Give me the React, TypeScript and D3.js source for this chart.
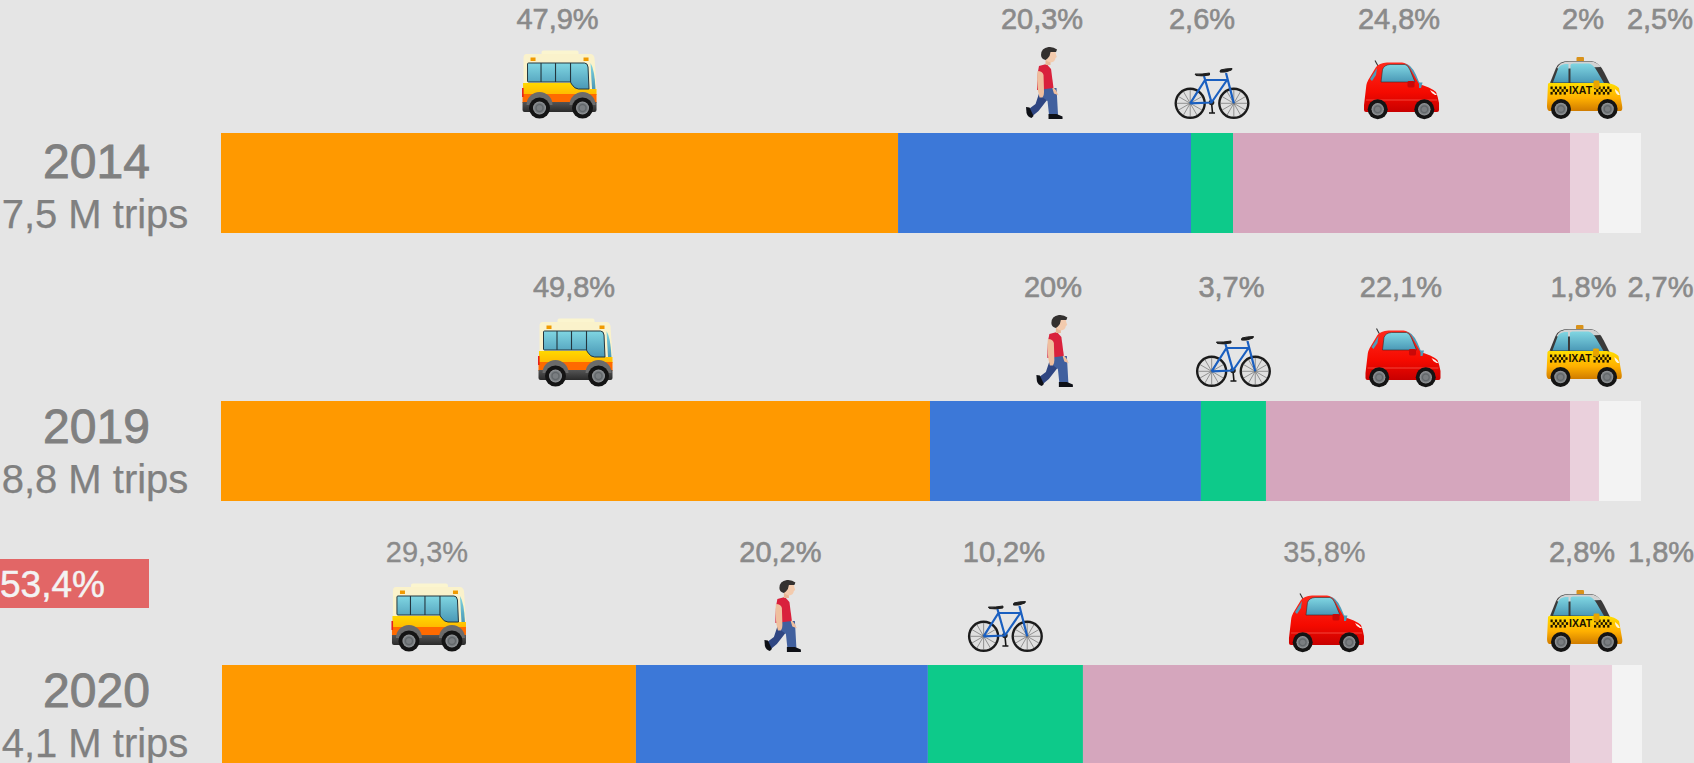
import React from 'react';
import * as d3 from 'd3';

const W = 1694;
const H = 763;

// ---- data
const years = ['2014', '2019', '2020'];
const trips = ['7,5 M trips', '8,8 M trips', '4,1 M trips'];
const modes = ['bus', 'walk', 'bike', 'car', 'taxi', 'other'];

// printed percentages
const busPrinted = [47.9, 49.8, 29.3];
const walkPrinted = [20.3, 20, 20.2];
const bikePrinted = [2.6, 3.7, 10.2];
const carPrinted = [24.8, 22.1, 35.8];
const taxiPrinted = [2, 1.8, 2.8];
const otherPrinted = [2.5, 2.7, 1.8];

// bar lengths (share of the full bar)
const busDrawn = [47.68, 49.93, 29.15];
const walkDrawn = [20.63, 19.08, 20.56];
const bikeDrawn = [2.96, 4.58, 10.92];
const carDrawn = [23.73, 21.41, 34.3];
const taxiDrawn = [2.04, 2.04, 2.96];
const otherDrawn = [2.96, 2.96, 2.11];

const dropLabel = '53,4%';

// ---- layout & style
const colors = ['#FF9900', '#3C78D8', '#0DCA8A', '#D5A6BD', '#EAD0DC', '#F3F3F3'];
const barLeft = [221, 221, 222];
const barTop = [133, 401, 665];
const BAR_H = 100;
const BAR_W = 1420;
const iconBottom = [119, 387, 652];
const labelBase = [29, 297, 562];
const yearBase = [178, 442.5, 707];
const tripBase = [228, 492.5, 756.5];
const labelNudge = [
  [-2, -2.5, -10, -2.5, -1.5, 40],
  [-1.5, -12.5, -2, -17, -1, 40.5],
  [-2, -1.5, -1.5, -2, -9, 34],
];
const iconNudge = [
  [0, 0, 0, 0.5, 0.5],
  [0, -10.6, 0, -14.5, 0],
  [0, 1, 0, 0.5, -6],
];
const labelStroke = [
  [0.6, 0.6, 0.6, 0.6, 0.6, 0.6],
  [0.6, 0.6, 0.6, 0.6, 0.6, 0.6],
  [0.3, 0.6, 0.6, 0.3, 0.6, 0.6],
];
const FONT = '"Liberation Sans", Arial, sans-serif';

const printed = [busPrinted, walkPrinted, bikePrinted, carPrinted, taxiPrinted, otherPrinted];
const drawn = [busDrawn, walkDrawn, bikeDrawn, carDrawn, taxiDrawn, otherDrawn];
const rows = years.map((_, r) => Object.fromEntries(modes.map((m, i) => [m, drawn[i][r]])));
const stacked = d3.stack<any>().keys(modes)(rows);
const share = d3.scaleLinear().domain([0, 100]).range([0, BAR_W]);
const fmt = (v: number) => `${v}%`.replace('.', ',');

// ---- icons: origin is the bottom centre of each little picture
const Defs = () => (
  <defs>
    <linearGradient id="glass" x1="0" y1="0" x2="0" y2="1">
      <stop offset="0" stopColor="#80D6E2" />
      <stop offset="1" stopColor="#4A98B6" />
    </linearGradient>
    <linearGradient id="red" x1="0" y1="0" x2="0" y2="1">
      <stop offset="0" stopColor="#FF2A1C" />
      <stop offset="0.6" stopColor="#F50A00" />
      <stop offset="1" stopColor="#C80000" />
    </linearGradient>
    <linearGradient id="amber" x1="0" y1="0" x2="0" y2="1">
      <stop offset="0" stopColor="#FFDF00" />
      <stop offset="0.55" stopColor="#FFB000" />
      <stop offset="1" stopColor="#D07C00" />
    </linearGradient>
    <linearGradient id="busBand" x1="0" y1="0" x2="0" y2="1">
      <stop offset="0" stopColor="#FFD800" />
      <stop offset="1" stopColor="#FFB800" />
    </linearGradient>
    <linearGradient id="hull" x1="0" y1="0" x2="0" y2="1">
      <stop offset="0" stopColor="#555555" />
      <stop offset="1" stopColor="#2A2A2A" />
    </linearGradient>
    <radialGradient id="hub">
      <stop offset="0" stopColor="#7C8083" />
      <stop offset="0.55" stopColor="#62676A" />
      <stop offset="1" stopColor="#9A9DA0" />
    </radialGradient>
  </defs>
);

const Wheel = ({ x, y, r = 10.5 }: { x: number; y: number; r?: number }) => (
  <g>
    <circle cx={x} cy={y} r={r} fill="#141414" />
    <circle cx={x} cy={y} r={r * 0.62} fill="url(#hub)" />
    <circle cx={x} cy={y} r={r * 0.26} fill="#7A7E81" />
  </g>
);

const Bus = () => (
  <g>
    <rect x={-18} y={-68.5} width={37} height={8} rx={2} fill="#FBF5CF" />
    <path d="M-33,-65 H31 Q34,-65 35,-61 L37,-30 V-20 H-36 V-61 Q-36,-65 -33,-65Z" fill="#FAF2CB" />
    <path d="M-36.5,-36 H12 L19,-30 H37 V-24 H-36.5Z" fill="url(#busBand)" />
    <rect x={-37} y={-25} width={74} height={9} fill="#FF6A00" />
    <rect x={-37.5} y={-31} width={1.6} height={9} fill="#E8201A" />
    <path d="M-37,-17 H37 V-9 Q37,-7 35,-7 H-35 Q-37,-7 -37,-9Z" fill="url(#hull)" />
    <path d="M-31,-56 H25 Q28,-56 28.5,-52 L29.5,-30 H19 Q15,-30 12,-35 L11,-37 H-31 Q-32,-37 -32,-38 V-55 Q-32,-56 -31,-56Z" fill="url(#glass)" stroke="#24363E" strokeWidth={1} />
    <path d="M-18.5,-56 V-37 M-4,-56 V-37 M11,-56 V-37" stroke="#24363E" strokeWidth={1.1} />
    <path d="M31,-56 Q35,-50 36,-30 H32.5 Z" fill="url(#glass)" />
    <rect x={-29} y={-61.5} width={5} height={3.5} fill="#F09A00" />
    <rect x={24} y={-61.5} width={5} height={3.5} fill="#F09A00" />
    <path d="M-33,-14 A13,13 0 0 1 -7,-14Z" fill="#6B6B6B" />
    <path d="M10,-14 A13,13 0 0 1 36,-14Z" fill="#6B6B6B" />
    <Wheel x={-20} y={-11} r={10.5} />
    <Wheel x={23} y={-11} r={10.5} />
  </g>
);

const Walker = () => (
  <g>
    {/* back leg */}
    <path d="M-4,-30 L8,-26 L-6,-8 L-12,-3 L-17,-9 L-9,-15Z" fill="#2F4682" />
    {/* front leg */}
    <path d="M-6,-31 H12 L13.5,-4 H4.5 L3,-18 L-5,-24Z" fill="#41609E" />
    <path d="M-18.5,-12 L-15,-11.5 L-11,-3 L-13,-1 Q-17,-2 -18,-6Z" fill="#0E1016" />
    <path d="M4,-5 H12 L18,-2.5 V0 H4Z" fill="#0E1016" />
    {/* shirt */}
    <path d="M-5.5,-53 L2,-55 L6.5,-50 L9,-31 L-7.5,-29 Q-7.5,-45 -5.5,-53Z" fill="#D9213C" />
    {/* arm */}
    <path d="M-7,-48 Q-2,-48 -1,-44 L-0.5,-27 Q-0.5,-23 -2,-21.5 L-5,-21.5 L-6.5,-28 Q-8,-40 -7,-48Z" fill="#EFBF9E" />
    <path d="M8.5,-31 L11,-28 L12.5,-25 L10,-26 Z" fill="#EFBF9E" stroke="#EFBF9E" strokeWidth={1.4} />
    <rect x={1} y={-60} width={5} height={6} fill="#E9B796" />
    {/* head */}
    <path d="M2,-69 H10.5 L11.5,-64.5 L12.3,-62 L11,-61 Q10.5,-57 6,-56.5 Q1.5,-57.5 0.5,-61Z" fill="#F3CBAE" />
    <path d="M-3.5,-64 Q-3.5,-71 4,-72 Q9,-72.5 12.5,-69.5 L11.5,-67 L6,-67 L5,-63 L3,-60.5 L1,-59 Q-3.5,-60 -3.5,-64Z" fill="#33302F" />
  </g>
);

const spokeAngles = d3.range(0, 360, 30);
const BikeWheel = ({ x }: { x: number }) => (
  <g>
    <circle cx={x} cy={-15.7} r={14.5} fill="#DADADA" fillOpacity={0.5} stroke="#1B1B1B" strokeWidth={2.4} />
    {spokeAngles.map((a) => (
      <line
        key={a}
        x1={x}
        y1={-15.7}
        x2={x + 13.5 * Math.cos((a * Math.PI) / 180)}
        y2={-15.7 + 13.5 * Math.sin((a * Math.PI) / 180)}
        stroke="#6F6F6F"
        strokeWidth={0.7}
      />
    ))}
  </g>
);

const Bike = () => (
  <g>
    <BikeWheel x={-21.8} />
    <BikeWheel x={21.8} />
    <path d="M-0.5,-16.5 L0.5,-6 M-3,-6 H3" stroke="#161616" strokeWidth={1.6} fill="none" />
    <circle cx={-0.5} cy={-16.5} r={2.8} fill="#222" />
    <path
      d="M-21.8,-15.7 L-0.5,-16.5 L-8,-43 M-21.8,-15.7 L-7,-39 H15 L-0.5,-16.5 M14,-46 L21.8,-15.7"
      stroke="#1A5FC0"
      strokeWidth={2.2}
      fill="none"
      strokeLinejoin="round"
    />
    <path d="M-17,-45 Q-10,-44.5 -2.5,-46 L-2.5,-44 Q-10,-42.5 -16,-43.5Z" fill="#1E1E1E" stroke="#1E1E1E" strokeWidth={1} />
    <path d="M8,-47 Q13,-46 19.5,-49 L20,-50.5 Q14,-50.5 8.5,-49Z" fill="#1E1E1E" stroke="#1E1E1E" strokeWidth={1} />
  </g>
);

const Car = () => (
  <g>
    <path d="M-27,-58.5 L-24,-53" stroke="#333" strokeWidth={1.1} />
    <path d="M-35.5,-30 L-26,-49 Q-23,-55 -17,-55 Q-1,-57 5,-55 Q11,-53 17,-37 L20,-32 Z" fill="#4F9CB8" />
    <path
      d="M-36,-31 Q-36,-36 -32,-42 L-26,-52 Q-23,-56 -15,-56.5 H0 Q5,-56 8,-51 L17,-35 Q28,-32 34,-27 Q36,-22 37,-16 V-9 Q37,-7 35,-7 H-36 Q-38,-7 -38,-9 V-14Z"
      fill="url(#red)"
    />
    <path d="M-21,-37 L-19.5,-49.5 Q-18,-54 -12,-54.5 H3 Q6,-54 8,-49 L13,-37 Z" fill="url(#glass)" stroke="#3A2A2A" strokeWidth={0.6} />
    <path d="M-32,-40 L-25,-51 L-26,-44 L-30,-38Z" fill="#4F9CB8" />
    <path d="M17,-36.5 H20.5 L19,-31 H17Z" fill="#4F9CB8" />
    <rect x={5.5} y={-38} width={7} height={6.5} rx={1.4} fill="#C90808" />
    <path d="M28,-29 Q33,-27 35,-24 L33,-24 Q29,-26 28,-29Z" fill="#FFF3EC" />
    <path d="M-36,-19 H35" stroke="#FF7A6A" strokeWidth={0.7} opacity={0.8} />
    <Wheel x={-24.3} y={-9.7} r={10} />
    <Wheel x={22.3} y={-9.7} r={10} />
  </g>
);

const checkers = d3.range(0, 8);
const Checks = ({ x }: { x: number }) => (
  <g fill="#1C1200">
    {checkers.map((c) => (
      <rect key={c} x={x + c * 2.2} y={-32.5 + (c % 2) * 2.7} width={2.2} height={2.7} />
    ))}
    {checkers.map((c) =>
      c % 2 ? null : (
        <rect key={`b${c}`} x={x + c * 2.2} y={-27.1} width={2.2} height={2.7} />
      ),
    )}
  </g>
);

const Taxi = () => (
  <g>
    <rect x={-8.5} y={-62} width={7.5} height={4.6} rx={1} fill="#D9921A" />
    <path d="M-35,-36 L-29,-51 Q-26,-58 -16,-58 H6 Q14,-57 19,-47 L25,-35 Z" fill="#3A3A3A" />
    <path d="M-28,-51 Q-25,-57.5 -16,-57.5 H6 Q12,-57 16,-52 L-26,-50Z" fill="#D2D2D2" />
    <path d="M-32,-36.5 L-27,-50 Q-26,-54 -20,-55 H-16.5 V-36.5Z" fill="url(#glass)" />
    <path d="M-14.5,-36.5 V-54 Q-14.5,-55.5 -12,-55.5 H4 Q8,-55 12,-48 L19,-36 Z" fill="url(#glass)" />
    <path
      d="M-37,-35 Q-36,-37 -33,-36 H22 Q30,-35 34,-31 L37,-14 Q38,-9 36,-8 H-36 Q-38,-9 -38,-13Z"
      fill="url(#amber)"
    />
    <Checks x={-34.5} />
    <Checks x={9} />
    <text x={-4.5} y={-25.4} textAnchor="middle" fontFamily={FONT} fontWeight="bold" fontSize={10.5} fill="#1C1200">IXAT</text>
    <rect x={8.5} y={-38.5} width={6} height={8} rx={1.4} fill="#E8A400" />
    <path d="M30,-30 Q33,-28 35,-24 L33,-24 Q30,-26 30,-30Z" fill="#FFF6E0" />
    <Wheel x={-24} y={-10} r={10} />
    <Wheel x={22.6} y={-10} r={10} />
  </g>
);

const icons = [Bus, Walker, Bike, Car, Taxi];

export default function App() {
  return (
    <svg
      width={W}
      height={H}
      viewBox={`0 0 ${W} ${H}`}
      style={{ position: 'absolute', left: 0, top: 0, display: 'block', overflow: 'hidden' }}
    >
      <Defs />
      <rect width={W} height={H} fill="#E5E5E5" />

      {stacked.map((layer, i) => (
        <g key={layer.key}>
          {layer.map((d, r) => {
            const x0 = barLeft[r] + share(d[0]);
            const x1 = barLeft[r] + share(d[1]);
            const mid = (x0 + x1) / 2;
            const Icon = icons[i];
            return (
              <g key={r}>
                <rect x={x0} y={barTop[r]} width={x1 - x0} height={BAR_H} fill={colors[i]} />
                <text
                  x={mid + labelNudge[r][i]}
                  y={labelBase[r]}
                  textAnchor="middle"
                  fontFamily={FONT}
                  fontSize={29}
                  fill="#8A8A8A"
                  stroke="#8A8A8A"
                  strokeWidth={labelStroke[r][i]}
                >
                  {fmt(printed[i][r])}
                </text>
                {Icon && (
                  <g transform={`translate(${mid + iconNudge[r][i]},${iconBottom[r]})`}>
                    <Icon />
                  </g>
                )}
              </g>
            );
          })}
        </g>
      ))}

      {years.map((y, r) => (
        <g key={y} fontFamily={FONT} fill="#808080" stroke="#808080">
          <text x={96.5} y={yearBase[r]} textAnchor="middle" fontSize={48} strokeWidth={0.9}>{y}</text>
          <text x={95} y={tripBase[r]} textAnchor="middle" fontSize={40} strokeWidth={0.25}>{trips[r]}</text>
        </g>
      ))}

      <rect x={0} y={559} width={149} height={49} fill="#E26666" />
      <text x={0} y={597} fontFamily={FONT} fontSize={37} fill="#F3F3F3" stroke="#F3F3F3" strokeWidth={0.5}>{dropLabel}</text>
    </svg>
  );
}
